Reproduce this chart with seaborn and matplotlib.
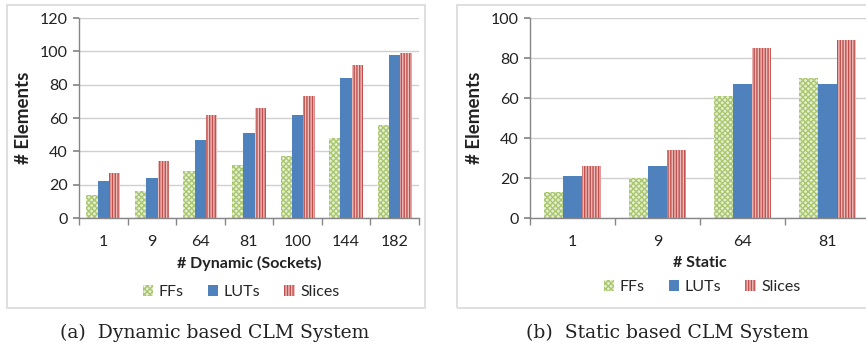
import numpy as np
import pandas as pd
import matplotlib
matplotlib.use('Agg')
import matplotlib.pyplot as plt
import seaborn as sns
from matplotlib.patches import Patch, Rectangle

dyn_cats = ['1', '9', '64', '81', '100', '144', '182']
dyn_ffs = [14, 16, 28, 32, 37, 48, 56]
dyn_luts = [22, 24, 47, 51, 62, 84, 98]
dyn_slices = [27, 34, 62, 66, 73, 92, 99]

sta_cats = ['1', '9', '64', '81']
sta_ffs = [13, 20, 61, 70]
sta_luts = [21, 26, 67, 67]
sta_slices = [26, 34, 85, 89]

series = ['FFs', 'LUTs', 'Slices']

sns.set_theme(style='white')
plt.rcParams['font.family'] = ['Lato', 'DejaVu Sans']
plt.rcParams['hatch.linewidth'] = 1.0

W, H = 866, 354
fig = plt.figure(figsize=(W / 100, H / 100), dpi=100)

styles = [
    dict(face='#E6EFD3', hc='#A9C76E', hatch='xxxxxx'),
    dict(face='#4F81BD', hc='#4F81BD', hatch=None),
    dict(face='#EDBDBC', hc='#C0504D', hatch='||||||'),
]


def fx(px):
    return px / W


def fy(py):
    return 1 - py / H


def panel(rect, cats, ffs, luts, slices, ymax, xlabel, width, leg_center, leg_y):
    ax = fig.add_axes(rect)
    df = pd.DataFrame({
        'cat': cats * 3,
        'series': np.repeat(series, len(cats)),
        'val': ffs + luts + slices,
    })
    sns.barplot(data=df, x='cat', y='val', hue='series', order=cats,
                hue_order=series, palette=[s['face'] for s in styles],
                width=width, saturation=1, ax=ax, legend=False, errorbar=None)
    for cont, st in zip(ax.containers, styles):
        for p in cont:
            p.set_facecolor(st['face'])
            p.set_edgecolor(st['hc'])
            p.set_linewidth(0)
            if st['hatch']:
                p.set_hatch(st['hatch'])
    ax.set_xlim(-0.5, len(cats) - 0.5)
    ax.set_ylim(0, ymax)
    ax.set_yticks(np.arange(0, ymax + 1, 20))
    ax.yaxis.grid(True, color='#D0D0D0', lw=1)
    ax.set_axisbelow(True)
    for s in ['top', 'right']:
        ax.spines[s].set_visible(False)
    for s in ['left', 'bottom']:
        ax.spines[s].set_color('#868686')
        ax.spines[s].set_linewidth(1)
    ax.set_xticks(np.arange(-0.5, len(cats), 1), minor=True)
    ax.tick_params(axis='x', which='major', length=0, pad=12, labelsize=11.5, colors='#222222')
    ax.tick_params(axis='x', which='minor', length=5, color='#868686', direction='out', bottom=True)
    ax.tick_params(axis='y', which='major', length=4, color='#868686', direction='out', left=True,
                   labelsize=11.5, colors='#222222', pad=4)
    ax.set_xlabel(xlabel, fontsize=11.5, fontweight='bold', labelpad=5, color='#222222')
    ax.set_ylabel('# Elements', fontsize=13.5, fontweight='bold', labelpad=6, color='#222222')
    handles = []
    for st, name in zip(styles, series):
        handles.append(Patch(facecolor=st['face'], edgecolor=st['hc'], linewidth=0,
                             hatch=st['hatch'], label=name))
    fig.legend(handles=handles, loc='center', ncol=3, frameon=False,
               bbox_to_anchor=(fx(leg_center), fy(leg_y)), fontsize=11.5,
               handlelength=0.65, handleheight=0.75, handletextpad=0.35,
               columnspacing=1.5)
    return ax


panel([fx(79), fy(218), fx(419 - 79), (218 - 18) / H], dyn_cats, dyn_ffs, dyn_luts, dyn_slices,
      120, '# Dynamic (Sockets)', 0.7, 241, 292)
panel([fx(530), fy(218), fx(870 - 530), (218 - 18) / H], sta_cats, sta_ffs, sta_luts, sta_slices,
      100, '# Static', 0.67, 702, 287)

fig.add_artist(Rectangle((fx(7), fy(308)), fx(425 - 7), (308 - 5) / H, transform=fig.transFigure,
                         fill=False, edgecolor='#D9D9D9', lw=1.2))
fig.add_artist(Rectangle((fx(457), fy(308)), fx(880 - 457), (308 - 5) / H, transform=fig.transFigure,
                         fill=False, edgecolor='#D9D9D9', lw=1.2))

fig.text(fx(215), fy(333), '(a)  Dynamic based CLM System', ha='center', va='center',
         family='DejaVu Serif', fontsize=13.5, color='#222222')
fig.text(fx(667), fy(333), '(b)  Static based CLM System', ha='center', va='center',
         family='DejaVu Serif', fontsize=13.5, color='#222222')

fig.savefig('out.png', dpi=100)
